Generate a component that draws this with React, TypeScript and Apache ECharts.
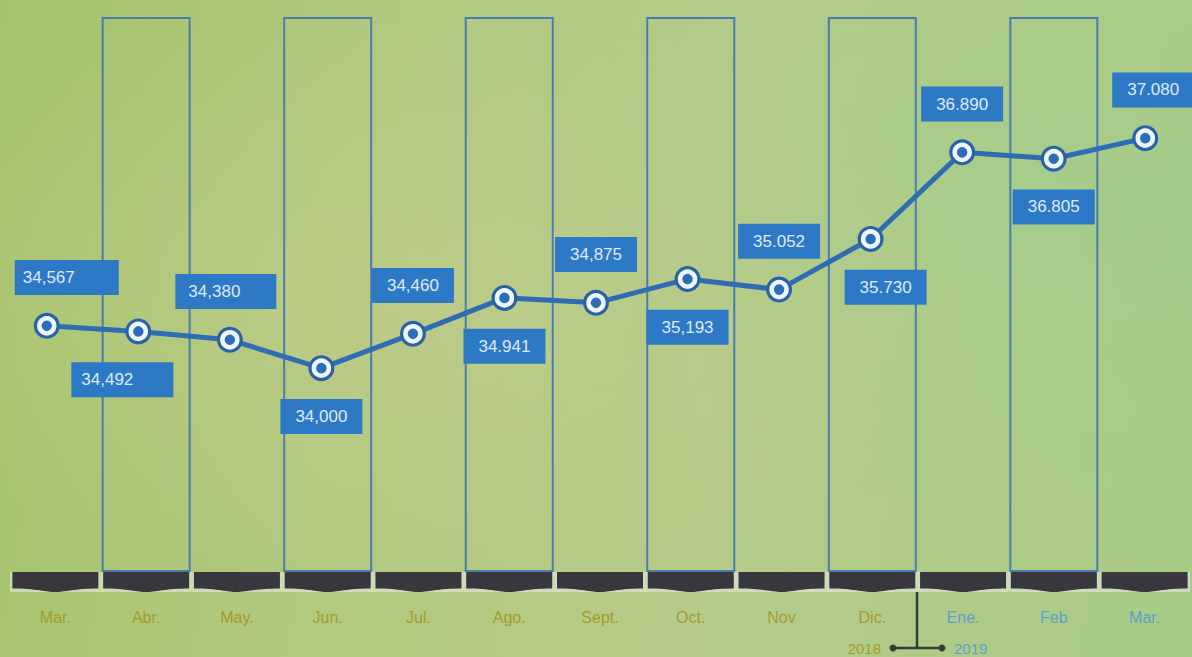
import React, { useEffect, useRef } from "react";
import * as echarts from "echarts";

// ---------- data ----------
const months = ["Mar.", "Abr.", "May.", "Jun.", "Jul.", "Ago.", "Sept.", "Oct.", "Nov", "Dic.", "Ene.", "Feb", "Mar."];
const monthYears = [2018, 2018, 2018, 2018, 2018, 2018, 2018, 2018, 2018, 2018, 2019, 2019, 2019];
const values = [34567, 34492, 34380, 34000, 34460, 34941, 34875, 35193, 35052, 35730, 36890, 36805, 37080];
const valueLabels = ["34,567", "34,492", "34,380", "34,000", "34,460", "34.941", "34,875", "35,193", "35.052", "35.730", "36.890", "36.805", "37.080"];
const framedMonths = [0, 1, 0, 1, 0, 1, 0, 1, 0, 1, 0, 1, 0];
const yearLabels = ["2018", "2019"];

// ---------- styles ----------
const NARROW = "'Liberation Sans Narrow', 'Liberation Sans', Arial, sans-serif";
const SANS = "'Liberation Sans', Arial, sans-serif";
const OLIVE = "#a39c2e";
const TEAL = "#5d9fc6";
const labelPaddingOverride: Record<number, number[]> = {
  0: [9, 44, 9, 8],
  1: [9, 40, 9, 10],
  2: [9, 36, 9, 13],
};
const labelOffsetOverride: Record<number, number[]> = {
  0: [20, 0],
  1: [-16, 0],
  2: [-4, 0],
  9: [15, 0],
  12: [8, 0],
};

export default function App() {
  const ref = useRef<HTMLDivElement>(null);

  useEffect(() => {
    if (!ref.current) return;
    const chart = echarts.init(ref.current, undefined, { renderer: "svg" });

    const pointData = values.map((v, i) => ({
      value: v,
      label: {
        position: i % 2 === 0 ? "top" : "bottom",
        padding: labelPaddingOverride[i] || [9, 15, 9, 15],
        offset: labelOffsetOverride[i] || [0, 0],
      },
    }));

    const option: any = {
      animation: false,
      backgroundColor: "transparent",
      grid: [
        { left: 1, right: 1, top: 0, height: 581 },
        { left: 10, right: 2, top: 17, height: 555 },
        { left: 10, right: 2, top: 572, height: 20 },
      ],
      xAxis: [
        { type: "category", gridIndex: 0, data: months, show: false },
        { type: "category", gridIndex: 1, data: months, show: false },
        {
          type: "category",
          gridIndex: 2,
          data: months,
          axisLine: { show: false },
          axisTick: { show: false },
          axisLabel: {
            margin: 17,
            interval: 0,
            formatter: (v: string, i: number) => (monthYears[i] === 2019 ? `{b|${v}}` : `{a|${v}}`),
            rich: {
              a: { color: OLIVE, fontSize: 16, fontFamily: NARROW },
              b: { color: TEAL, fontSize: 16, fontFamily: NARROW },
            },
          },
        },
      ],
      yAxis: [
        { type: "value", gridIndex: 0, min: 31150, max: 38930, show: false },
        { type: "value", gridIndex: 1, min: 0, max: 1, show: false },
        { type: "value", gridIndex: 2, min: 0, max: 1, show: false },
      ],
      series: [
        {
          type: "bar",
          xAxisIndex: 1,
          yAxisIndex: 1,
          silent: true,
          barWidth: 89,
          data: framedMonths.map((f) => (f ? 1 : "-")),
          itemStyle: { color: "rgba(0,0,0,0)", borderColor: "#4a7cad", borderWidth: 2 },
          z: 1,
        },
        {
          type: "bar",
          xAxisIndex: 2,
          yAxisIndex: 2,
          silent: true,
          barWidth: "100%",
          data: months.map(() => 1),
          itemStyle: { color: "rgba(232,236,226,0.55)" },
          z: 1,
        },
        {
          type: "pictorialBar",
          xAxisIndex: 2,
          yAxisIndex: 2,
          silent: true,
          symbol: "path://M0,0L100,0L100,82C72,82 60,100 50,100C40,100 28,82 0,82Z",
          symbolSize: [86, "100%"],
          data: months.map(() => 1),
          itemStyle: { color: "#39373e" },
          z: 2,
        },
        {
          type: "line",
          xAxisIndex: 0,
          yAxisIndex: 0,
          data: values,
          silent: true,
          symbol: "circle",
          symbolSize: 26,
          itemStyle: { color: "#2a62a6" },
          lineStyle: { color: "#2f6cb3", width: 5 },
          z: 3,
        },
        {
          type: "line",
          xAxisIndex: 0,
          yAxisIndex: 0,
          data: pointData,
          silent: true,
          symbol: "circle",
          symbolSize: 15,
          lineStyle: { width: 0, opacity: 0 },
          itemStyle: { color: "#2d6db5", borderColor: "#eef6ff", borderWidth: 4.5 },
          label: {
            show: true,
            distance: 21,
            formatter: (p: any) => valueLabels[p.dataIndex],
            backgroundColor: "#2e79c5",
            color: "#dfeafa",
            fontSize: 17,
            lineHeight: 17,
            fontFamily: SANS,
          },
          z: 4,
        },
      ],
      graphic: [
        { type: "line", shape: { x1: 917, y1: 592, x2: 917, y2: 648 }, style: { stroke: "#33403a", lineWidth: 2.5 } },
        { type: "line", shape: { x1: 893, y1: 648, x2: 942, y2: 648 }, style: { stroke: "#33403a", lineWidth: 2.5 } },
        { type: "circle", shape: { cx: 893, cy: 648, r: 3.5 }, style: { fill: "#33403a" } },
        { type: "circle", shape: { cx: 942, cy: 648, r: 3.5 }, style: { fill: "#33403a" } },
        {
          type: "text",
          x: 881,
          y: 648,
          style: { text: yearLabels[0], fill: OLIVE, fontSize: 15, fontFamily: NARROW, align: "right", verticalAlign: "middle" },
        },
        {
          type: "text",
          x: 954,
          y: 648,
          style: { text: yearLabels[1], fill: TEAL, fontSize: 15, fontFamily: NARROW, align: "left", verticalAlign: "middle" },
        },
      ],
    };

    chart.setOption(option);
    return () => chart.dispose();
  }, []);

  return (
    <div
      ref={ref}
      style={{
        position: "fixed",
        left: 0,
        top: 0,
        width: 1192,
        height: 657,
        background:
          "radial-gradient(ellipse at 35% 45%, rgba(196,204,140,0.55), rgba(196,204,140,0) 55%), radial-gradient(ellipse at 85% 30%, rgba(160,205,140,0.5), rgba(160,205,140,0) 50%), linear-gradient(100deg, #a3c46c 0%, #b1c97f 30%, #b6cb89 60%, #a7cb86 100%)",
      }}
    />
  );
}
